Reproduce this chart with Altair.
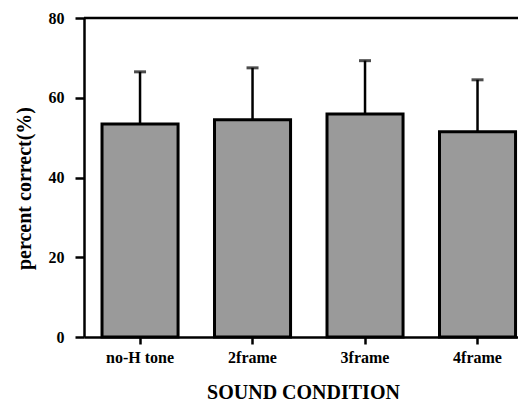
import altair as alt
import pandas as pd

conditions = ["no-H tone", "2frame", "3frame", "4frame"]
means = [53.4, 54.5, 55.9, 51.5]
errors = [13.1, 13.0, 13.4, 13.0]
y_ticks = [0, 20, 40, 60, 80]

df = pd.DataFrame({"cond": conditions, "mean": means, "err": errors})
df["upper"] = df["mean"] + df["err"]

FONT = "Liberation Serif"

x_scale = alt.Scale(domain=conditions, paddingInner=0.324, paddingOuter=0.091, align=0.88)
y_scale = alt.Scale(domain=[0, 80], nice=False)

x_axis = alt.Axis(
    title="SOUND CONDITION", titleFont=FONT, titleFontSize=20, titleFontWeight="bold",
    titleColor="black", titleBaseline="alphabetic", titleX=219, titleY=61, titleAlign="center",
    labelFont=FONT, labelFontSize=16, labelFontWeight="bold", labelColor="black",
    labelAngle=0, labelBaseline="alphabetic", labelPadding=18,
    tickSize=7, tickWidth=2.5, tickColor="black",
    domainColor="black", domainWidth=2.5, grid=False,
)
y_axis = alt.Axis(
    title="percent correct(%)", titleFont=FONT, titleFontSize=20, titleFontWeight="bold",
    titleColor="black", titleBaseline="alphabetic", titleX=-54, titleY=170,
    titleAlign="center", titleAngle=270,
    values=y_ticks, labelFont=FONT, labelFontSize=16, labelFontWeight="bold",
    labelColor="black", labelPadding=11,
    tickSize=9, tickWidth=2.5, tickColor="black",
    domainColor="black", domainWidth=2.5, grid=False,
)

base = alt.Chart(df)

bars = base.mark_bar(fill="#9a9a9a", stroke="black", strokeWidth=3).encode(
    x=alt.X("cond:N", scale=x_scale, axis=x_axis, sort=conditions),
    y=alt.Y("mean:Q", scale=y_scale, axis=y_axis),
)

err_line = base.mark_rule(color="black", strokeWidth=2.5).encode(
    x=alt.X("cond:N", sort=conditions),
    y=alt.Y("mean:Q"),
    y2="upper:Q",
)

err_cap = base.mark_tick(color="black", thickness=3, size=12, orient="horizontal").encode(
    x=alt.X("cond:N", sort=conditions),
    y=alt.Y("upper:Q"),
)

top_line = alt.Chart(pd.DataFrame({"v": [80]})).mark_rule(color="black", strokeWidth=2.5).encode(
    y=alt.Y("v:Q")
)

chart = alt.layer(bars, err_line, err_cap, top_line).properties(
    width=434, height=319,
    autosize=alt.AutoSizeParams(type="none"),
    padding={"left": 76, "top": 10, "right": 0, "bottom": 67},
).configure_view(stroke=None)

chart.save("out.html", embed_options={"renderer": "svg", "actions": False})
